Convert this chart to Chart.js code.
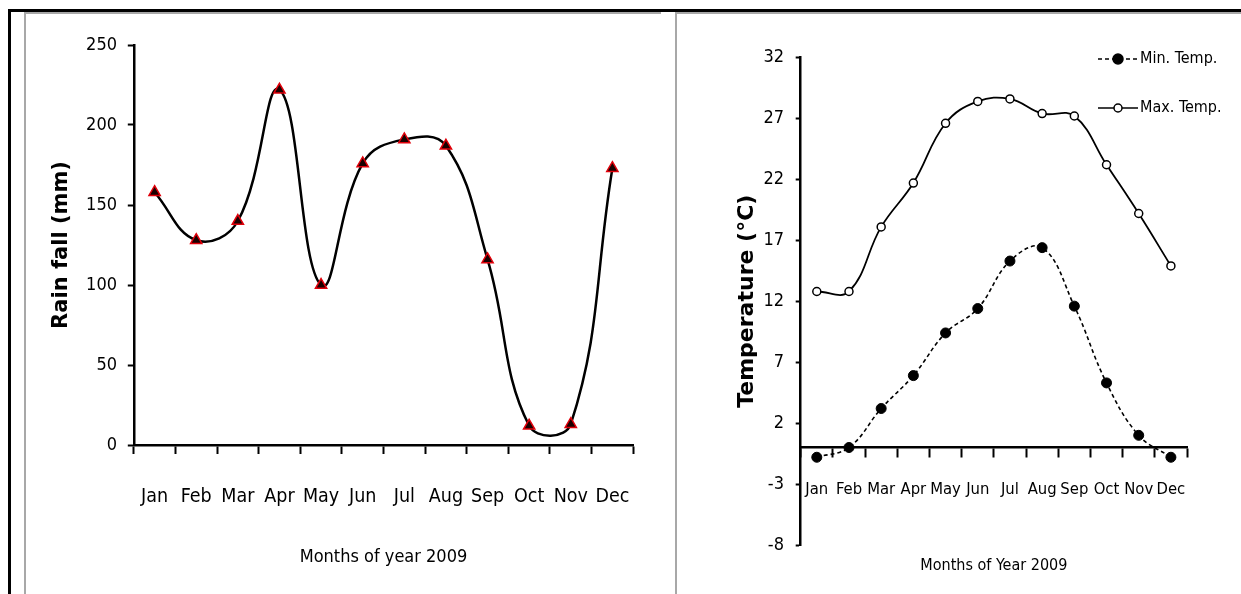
<!DOCTYPE html>
<html>
<head>
<meta charset="utf-8">
<script src="https://cdn.jsdelivr.net/npm/chart.js@4.4.1/dist/chart.umd.min.js"></script>
<style>
  body { margin: 0; background: #fff; width: 1241px; height: 594px; overflow: hidden; position: relative; }
  .line { position: absolute; }
  .black { background: #000; }
  .grey { background: #a8a8a8; }
  canvas { position: absolute; }
</style>
</head>
<body>
<div class="line black" style="left:8px;top:9px;width:1233px;height:3px"></div>
<div class="line black" style="left:8px;top:9px;width:3px;height:585px"></div>
<div class="line grey" style="left:24px;top:12px;width:637px;height:2px"></div>
<div class="line grey" style="left:24px;top:12px;width:2px;height:582px"></div>
<div class="line grey" style="left:675px;top:12px;width:566px;height:2px"></div>
<div class="line grey" style="left:675px;top:12px;width:2px;height:582px"></div>

<canvas id="rainChart" width="635" height="580" style="left:26px;top:14px"></canvas>
<canvas id="tempChart" width="564" height="580" style="left:677px;top:14px"></canvas>

<script>
const months = ['Jan', 'Feb', 'Mar', 'Apr', 'May', 'Jun', 'Jul', 'Aug', 'Sep', 'Oct', 'Nov', 'Dec'];

// rain fall (mm), 2009
const rainfall = [158, 128, 140, 222, 100, 176, 191, 187, 116, 12, 13, 173];
const rainTicks = [0, 50, 100, 150, 200, 250];

// temperature (°C), 2009
const minTemp = [-0.8, 0.0, 3.2, 5.9, 9.4, 11.4, 15.3, 16.4, 11.6, 5.3, 1.0, -0.8];
const maxTemp = [12.8, 12.8, 18.1, 21.7, 26.6, 28.4, 28.6, 27.4, 27.2, 23.2, 19.2, 14.9];
const tempTicks = [-8, -3, 2, 7, 12, 17, 22, 27, 32];
const tempNames = ['Min. Temp.', 'Max. Temp.'];

const narrow = '"DejaVu Sans Condensed", "Liberation Sans", sans-serif';
const heavy = '"DejaVu Sans", sans-serif';

const fixedTicks = list => scale => { scale.ticks = list.map(v => ({ value: v })); };
const fixWidth = w => scale => { scale.width = w; };
const fixHeight = h => scale => { scale.height = h; };

// legend icon: short line with the marker in the middle
function legendIcon(dashed, filled) {
  const c = document.createElement('canvas');
  c.width = 40; c.height = 14;
  const g = c.getContext('2d');
  g.strokeStyle = '#000';
  g.lineWidth = 1.6;
  if (dashed) g.setLineDash([4, 3]);
  g.beginPath(); g.moveTo(0, 7); g.lineTo(40, 7); g.stroke();
  g.setLineDash([]);
  g.beginPath();
  g.arc(20, 7, filled ? 5 : 4, 0, Math.PI * 2);
  g.fillStyle = filled ? '#000' : '#fff';
  g.fill();
  g.lineWidth = 1.5;
  g.stroke();
  return c;
}
const icons = [legendIcon(true, true), legendIcon(false, false)];

// puts the chartArea legend at a given spot
const legendSpot = {
  id: 'legendSpot',
  afterLayout(chart, args, opts) {
    const lg = chart.legend;
    if (!lg || opts.x === undefined) return;
    lg.left = opts.x;
    lg.right = opts.x + lg.width;
    lg.top = opts.y;
  }
};

new Chart(document.getElementById('rainChart'), {
  type: 'line',
  data: {
    labels: months,
    datasets: [{
      data: rainfall,
      borderColor: '#000',
      borderWidth: 2.5,
      tension: 0.42,
      fill: false,
      pointStyle: 'triangle',
      pointRadius: 6.5,
      pointBackgroundColor: '#1a0000',
      pointBorderColor: '#e0000a',
      pointBorderWidth: 1.5
    }]
  },
  options: {
    responsive: false,
    animation: false,
    events: [],
    layout: { padding: { top: 31, right: 4.5, bottom: 25.7, left: 0 } },
    plugins: { legend: { display: false }, tooltip: { enabled: false } },
    scales: {
      x: {
        offset: true,
        grid: { offset: true, drawOnChartArea: false, tickLength: 9, tickWidth: 2, tickColor: '#000' },
        border: { color: '#000', width: 2.5 },
        ticks: { color: '#000', font: { family: narrow, size: 19.5 }, padding: 31.3, maxRotation: 0, autoSkip: false },
        title: { display: true, text: 'Months of year 2009', color: '#000', font: { family: narrow, size: 18 }, padding: { top: 0, bottom: 0 } },
        afterFit: fixHeight(123.3)
      },
      y: {
        min: rainTicks[0],
        max: rainTicks[rainTicks.length - 1],
        afterBuildTicks: fixedTicks(rainTicks),
        grid: { drawOnChartArea: false, tickLength: 6, tickWidth: 2, tickColor: '#000' },
        border: { color: '#000', width: 2.5 },
        ticks: { color: '#000', font: { family: narrow, size: 18 }, padding: 10.8 },
        title: { display: true, text: 'Rain fall (mm)', color: '#000', font: { family: heavy, size: 21, weight: 'bold' }, padding: { top: 23.4, bottom: 0 } },
        afterFit: fixWidth(107.8)
      }
    }
  }
});

new Chart(document.getElementById('tempChart'), {
  type: 'line',
  data: {
    labels: months,
    datasets: [{
      label: tempNames[0],
      data: minTemp,
      borderColor: '#000',
      borderWidth: 1.6,
      borderDash: [4, 3],
      tension: 0.4,
      fill: false,
      pointStyle: 'circle',
      pointRadius: 5,
      pointBackgroundColor: '#000',
      pointBorderColor: '#000',
      pointBorderWidth: 1
    }, {
      label: tempNames[1],
      data: maxTemp,
      borderColor: '#000',
      borderWidth: 1.8,
      tension: 0.4,
      fill: false,
      pointStyle: 'circle',
      pointRadius: 4,
      pointBackgroundColor: '#fff',
      pointBorderColor: '#000',
      pointBorderWidth: 1.5
    }]
  },
  plugins: [legendSpot],
  options: {
    responsive: false,
    animation: false,
    events: [],
    layout: { padding: { top: 43.5, right: 54, bottom: 49, left: 0 } },
    plugins: {
      tooltip: { enabled: false },
      legendSpot: { x: 394, y: 4 },
      legend: {
        position: 'chartArea',
        align: 'start',
        labels: {
          color: '#000',
          font: { family: narrow, size: 16 },
          usePointStyle: true,
          pointStyleWidth: 28,
          padding: 33,
          generateLabels(chart) {
            const items = Chart.defaults.plugins.legend.labels.generateLabels(chart);
            items.forEach(it => { it.pointStyle = icons[it.datasetIndex]; });
            return items;
          }
        }
      }
    },
    scales: {
      x: {
        position: { y: 0 },
        offset: true,
        grid: { offset: true, drawOnChartArea: false, tickLength: 9, tickWidth: 2, tickColor: '#000' },
        border: { color: '#000', width: 2.5 },
        ticks: { color: '#000', font: { family: narrow, size: 16.5 }, padding: 22.9, maxRotation: 0, autoSkip: false },
        title: { display: true, text: 'Months of Year 2009', color: '#000', font: { family: narrow, size: 16 }, padding: { top: 0, bottom: 0 } },
        afterFit: fixHeight(128.4)
      },
      y: {
        min: tempTicks[0],
        max: tempTicks[tempTicks.length - 1],
        afterBuildTicks: fixedTicks(tempTicks),
        grid: { drawOnChartArea: false, tickLength: 5, tickWidth: 2, tickColor: '#000' },
        border: { color: '#000', width: 2.5 },
        ticks: { color: '#000', font: { family: narrow, size: 18 }, padding: 11.7 },
        title: { display: true, text: 'Temperature (°C)', color: '#000', font: { family: heavy, size: 22, weight: 'bold' }, padding: { top: 56.8, bottom: 0 } },
        afterFit: fixWidth(123.7)
      }
    }
  }
});
</script>
</body>
</html>
